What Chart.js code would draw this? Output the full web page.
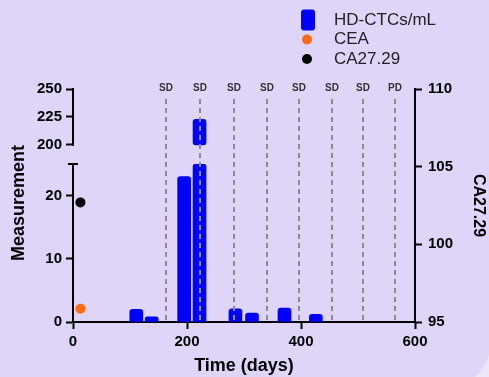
<!DOCTYPE html>
<html>
<head>
<meta charset="utf-8">
<script src="https://cdn.jsdelivr.net/npm/chart.js@4.4.0/dist/chart.umd.min.js"></script>
<style>
  html, body { margin: 0; padding: 0; background: #ede7fb; overflow: hidden; }
  #panel { position: absolute; left: 0; top: 0; width: 491px; height: 391px; background: #dfd5f8; border-bottom-right-radius: 51px; }
  #chart { position: absolute; left: 0; top: 0; }
</style>
</head>
<body>
<div id="panel"><canvas id="chart" width="489" height="377"></canvas></div>
<script>
// HD-CTC counts per mL, by blood draw day
const ctcDays = [111, 138, 195, 222, 285, 314, 371, 426];
const ctcValues = [2.0, 0.8, 23, 223, 2.1, 1.4, 2.2, 1.2];

// tumour markers (one draw each)
const ceaDays = [13];
const ceaValues = [2.1];
const caDays = [13];
const caValues = [102.7];

// imaging response calls
const scanDays = [164, 223, 282, 340, 397, 454, 509, 565];
const scanCalls = ['SD', 'SD', 'SD', 'SD', 'SD', 'SD', 'SD', 'PD'];

// axis ticks
const xTicks = [0, 200, 400, 600];
const lowTicks = [0, 10, 20];
const topTicks = [200, 225, 250];
const rightTicks = [95, 100, 105, 110];

// where the left axis is broken
const lowMax = 25;
const topFloor = 183; // top segment scale starts a bit below 200 to leave the gap

const FONT = '"Liberation Sans", Arial, sans-serif';
const blue = '#0000ff';
const orange = '#ff6a13';

const tickFont = { family: FONT, size: 15, weight: 'bold' };
const axisGrid = { display: true, drawOnChartArea: false, drawTicks: true, tickLength: 7, tickWidth: 2, tickColor: '#000' };
const axisBorder = { display: true, color: '#000', width: 2 };
const fixTicks = (list) => (s) => { s.ticks = list.map(v => ({ value: v })); };

// dashed scan lines, broken axis pieces, left title and legend
const extras = {
  id: 'extras',
  afterDatasetsDraw(chart) {
    const { ctx, chartArea, scales } = chart;
    ctx.save();
    ctx.strokeStyle = '#8c8c8c';
    ctx.lineWidth = 2;
    ctx.setLineDash([5, 4]);
    ctx.fillStyle = '#333';
    ctx.font = 'bold 10px ' + FONT;
    ctx.textAlign = 'center';
    ctx.textBaseline = 'middle';
    scanDays.forEach((d, i) => {
      const px = Math.round(scales.x.getPixelForValue(d));
      ctx.beginPath();
      ctx.moveTo(px, chartArea.top + 10);
      ctx.lineTo(px, chartArea.bottom - 1);
      ctx.stroke();
      ctx.fillText(scanCalls[i], px, chartArea.top - 1);
    });
    ctx.restore();
  },
  afterDraw(chart) {
    const { ctx, scales } = chart;
    const lo = scales.yLow, hi = scales.yTop;
    const ax = lo.right;
    ctx.save();
    ctx.strokeStyle = '#000';
    ctx.lineWidth = 2;
    ctx.beginPath();
    ctx.moveTo(ax, hi.getPixelForValue(topTicks[0]) + 1);
    ctx.lineTo(ax, hi.getPixelForValue(topTicks[topTicks.length - 1]) - 1);
    ctx.stroke();
    const capY = lo.getPixelForValue(lowMax);
    ctx.beginPath();
    ctx.moveTo(ax - 5, capY);
    ctx.lineTo(ax + 5, capY);
    ctx.stroke();

    // left axis title, centred on the whole broken axis
    ctx.fillStyle = '#000';
    ctx.font = 'bold 18px ' + FONT;
    ctx.textAlign = 'center';
    ctx.textBaseline = 'middle';
    ctx.translate(19, 203);
    ctx.rotate(-Math.PI / 2);
    ctx.fillText('Measurement', 0, 0);
    ctx.restore();

    // legend
    ctx.save();
    const items = chart.data.datasets.filter(ds => ds.inLegend !== false);
    items.forEach((ds, i) => {
      const y = 20 + i * 19.5;
      ctx.fillStyle = ds.backgroundColor;
      ctx.beginPath();
      if (ds.type === 'bar') {
        ctx.roundRect(301, y - 10.5, 14, 21, 3);
      } else {
        ctx.arc(307, y, 5, 0, Math.PI * 2);
      }
      ctx.fill();
      ctx.fillStyle = '#222';
      ctx.font = '17px ' + FONT;
      ctx.textAlign = 'left';
      ctx.textBaseline = 'middle';
      ctx.fillText(ds.label, 334, y);
    });
    ctx.restore();
  }
};

new Chart(document.getElementById('chart'), {
  type: 'bar',
  data: {
    datasets: [
      {
        label: 'HD-CTCs/mL', type: 'bar', yAxisID: 'yLow',
        data: ctcDays.map((d, i) => ({ x: d, y: Math.min(ctcValues[i], lowMax) })),
        backgroundColor: blue, barThickness: 13, borderRadius: 3, grouped: false
      },
      {
        label: 'HD-CTCs/mL', type: 'bar', yAxisID: 'yTop', inLegend: false,
        data: ctcDays.map((d, i) => ({ x: d, y: [topTicks[0], ctcValues[i]] })).filter(p => p.y[1] > topTicks[0]),
        backgroundColor: blue, barThickness: 13, borderRadius: 3, borderSkipped: false, grouped: false
      },
      {
        label: 'CEA', type: 'scatter', yAxisID: 'yLow',
        data: ceaDays.map((d, i) => ({ x: d, y: ceaValues[i] })),
        backgroundColor: orange, borderColor: orange, pointRadius: 5, pointBorderWidth: 0
      },
      {
        label: 'CA27.29', type: 'scatter', yAxisID: 'yR',
        data: caDays.map((d, i) => ({ x: d, y: caValues[i] })),
        backgroundColor: '#000', borderColor: '#000', pointRadius: 5, pointBorderWidth: 0
      }
    ]
  },
  options: {
    responsive: false,
    animation: false,
    layout: { padding: { top: 89, left: 0, right: 0, bottom: 0 } },
    plugins: { legend: { display: false }, tooltip: { enabled: false } },
    scales: {
      x: {
        type: 'linear', position: 'bottom', min: xTicks[0], max: xTicks[xTicks.length - 1], offset: false,
        grid: { ...axisGrid, offset: false }, border: axisBorder,
        afterBuildTicks: fixTicks(xTicks),
        ticks: { font: tickFont, color: '#000', padding: 4, maxRotation: 0 },
        title: { display: true, text: 'Time (days)', color: '#000', font: { family: FONT, size: 18, weight: 'bold', lineHeight: 1.2 }, padding: { top: 0, bottom: 0 } },
        afterFit: (s) => { s.height = 55; }
      },
      yLow: {
        type: 'linear', position: 'left', stack: 'left', stackWeight: 158,
        min: 0, max: lowMax,
        grid: axisGrid, border: axisBorder,
        afterBuildTicks: fixTicks(lowTicks),
        ticks: { font: tickFont, color: '#000', padding: 4 },
        afterFit: (s) => { s.width = 73; }
      },
      yTop: {
        type: 'linear', position: 'left', stack: 'left', stackWeight: 75,
        min: topFloor, max: topTicks[topTicks.length - 1],
        grid: axisGrid, border: { display: false },
        afterBuildTicks: fixTicks(topTicks),
        ticks: { font: tickFont, color: '#000', padding: 4 },
        afterFit: (s) => { s.width = 73; }
      },
      yR: {
        type: 'linear', position: 'right',
        min: rightTicks[0], max: rightTicks[rightTicks.length - 1],
        grid: axisGrid, border: axisBorder,
        afterBuildTicks: fixTicks(rightTicks),
        ticks: { font: tickFont, color: '#000', padding: 6 },
        title: { display: true, text: 'CA27.29', color: '#000', font: { family: FONT, size: 16, weight: 'bold', lineHeight: 1.2 }, padding: { top: 1, bottom: 0 } },
        afterFit: (s) => { s.width = 74; }
      }
    }
  },
  plugins: [extras]
});
</script>
</body>
</html>
